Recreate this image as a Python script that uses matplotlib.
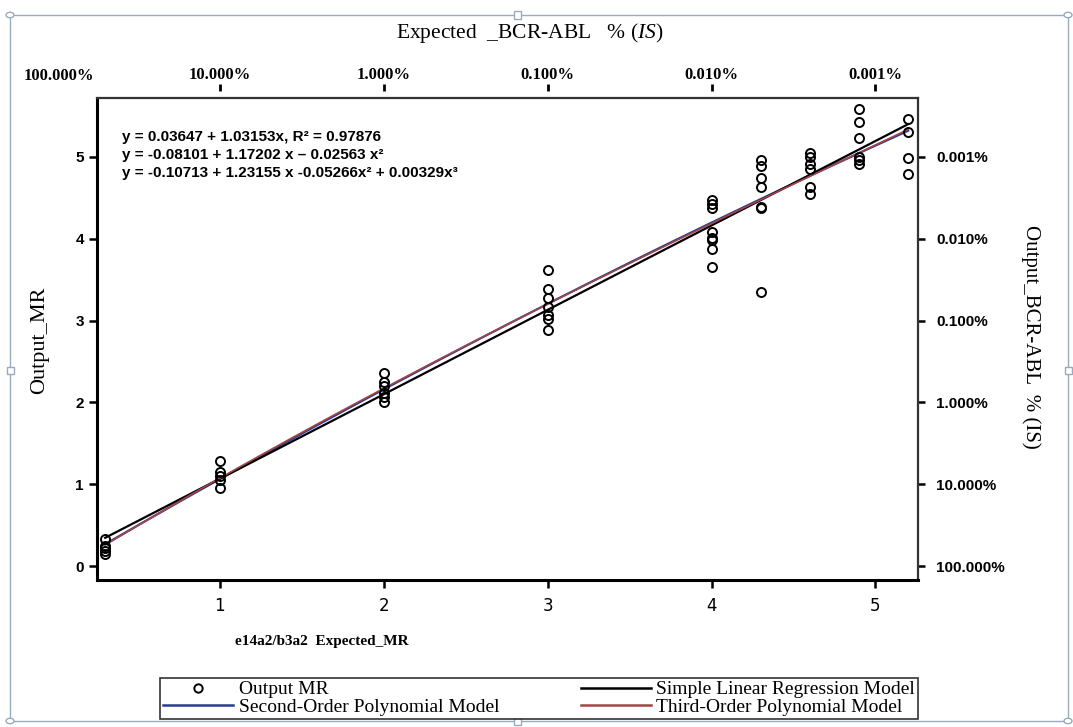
import numpy as np
import matplotlib.pyplot as plt
from matplotlib.patches import Rectangle, Circle
from matplotlib.lines import Line2D

plt.rcParams['mathtext.fontset'] = 'custom'
plt.rcParams['mathtext.rm'] = 'Liberation Serif'
plt.rcParams['mathtext.it'] = 'Liberation Serif:italic'

# observed Output_MR for each Expected_MR level
expected_mr = [0.3, 1, 2, 3, 4, 4.3, 4.6, 4.9, 5.2]
output_mr = [
    [0.33, 0.25, 0.22, 0.19, 0.15],
    [1.28, 1.15, 1.10, 1.05, 0.96],
    [2.36, 2.25, 2.20, 2.12, 2.07, 2.00],
    [3.62, 3.38, 3.27, 3.17, 3.07, 3.02, 2.88],
    [4.47, 4.42, 4.38, 4.08, 4.01, 3.98, 3.87, 3.65],
    [4.96, 4.89, 4.74, 4.63, 4.39, 4.37, 3.35],
    [5.05, 5.00, 4.91, 4.85, 4.63, 4.55],
    [5.59, 5.43, 5.23, 5.00, 4.96, 4.91],
    [5.46, 5.31, 4.99, 4.79],
]

# model coefficients (lowest order first)
lin_coef = [0.03647, 1.03153]
quad_coef = [-0.08101, 1.17202, -0.02563]
cub_coef = [-0.10713, 1.23155, -0.05266, 0.00329]

mr_ticks = [0, 1, 2, 3, 4, 5]
pct_labels = ['100.000%', '10.000%', '1.000%', '0.100%', '0.010%', '0.001%']

fig = plt.figure(figsize=(10.73, 7.27), dpi=100)
ax = fig.add_axes([97/1073, 1-580/727, 821/1073, 482/727])

px, py = [], []
for x, ys in zip(expected_mr, output_mr):
    px += [x]*len(ys)
    py += ys
ax.plot(px, py, 'o', mfc='none', mec='black', mew=1.4, ms=6.5, zorder=5)

xs = np.linspace(expected_mr[0], expected_mr[-1], 200)
ax.plot(xs, np.polyval(quad_coef[::-1], xs), color='#2b3a8f', lw=1.6, zorder=3)
ax.plot(xs, np.polyval(lin_coef[::-1], xs), color='black', lw=1.6, zorder=3)
ax.plot(xs, np.polyval(cub_coef[::-1], xs), color='#a34547', lw=1.2, zorder=4)

ax.set_xlim(0.25, 5.26)
ax.set_ylim(-0.17, 5.72)
ax.set_xticks([1, 2, 3, 4, 5])
ax.set_yticks(mr_ticks)
ax.tick_params(axis='both', direction='out', length=6, width=1.8)
ax.tick_params(axis='x', pad=6, labelsize=12, labelfontfamily='DejaVu Sans')
ax.tick_params(axis='y', labelsize=11, labelfontfamily='Liberation Sans')
for lab in ax.get_yticklabels():
    lab.set_fontweight('bold')
for s in ['left', 'bottom']:
    ax.spines[s].set_linewidth(2.2)
for s in ['top', 'right']:
    ax.spines[s].set_linewidth(1.6)
    ax.spines[s].set_color('#333333')

# top axis: BCR-ABL % (IS) for expected
top = ax.secondary_xaxis('top')
top.set_xticks(mr_ticks[1:])
top.set_xticklabels(pct_labels[1:])
top.spines['top'].set_visible(False)
top.spines['top'].set_position(('outward', 5))
top.tick_params(length=5, width=2, pad=1, labelsize=12, labelfontfamily='Liberation Serif')
for lab in top.get_xticklabels():
    lab.set_fontweight('bold')
ax.text(0.02, 1.045, pct_labels[0], transform=ax.get_xaxis_transform(),
        ha='center', va='center', fontfamily='Liberation Serif', fontweight='bold',
        fontsize=12, clip_on=False)

# right axis: BCR-ABL % (IS) for output
right = ax.secondary_yaxis('right')
right.set_yticks(mr_ticks)
right.set_yticklabels(pct_labels, fontweight='bold')
right.tick_params(length=5, width=1.8, pad=8, labelsize=11, labelfontfamily='Liberation Sans')
right.spines['right'].set_visible(False)

fig.text(40/1073, 1-340/727, 'Output_MR', rotation=90, ha='center', va='center',
         fontfamily='Liberation Serif', fontsize=16)
fig.text(1031/1073, 1-337/727, 'Output_BCR-ABL  % (IS)', rotation=-90, ha='center', va='center',
         fontfamily='Liberation Serif', fontsize=15)
fig.text(322/1073, 1-642/727, 'e14a2/b3a2  Expected_MR', ha='center', va='center',
         fontfamily='Liberation Serif', fontweight='bold', fontsize=11)
fig.text(530/1073, 1-33/727, r'Expected  _BCR-ABL   % ($\it{IS}$)', ha='center', va='center',
         fontfamily='Liberation Serif', fontsize=15.5)

eqs = ['y = 0.03647 + 1.03153x, R² = 0.97876',
       'y = -0.08101 + 1.17202 x – 0.02563 x²',
       'y = -0.10713 + 1.23155 x -0.05266x² + 0.00329x³']
for i, e in enumerate(eqs):
    fig.text(122/1073, 1-(137 + i*18)/727, e, ha='left', va='center',
             fontfamily='Liberation Sans', fontweight='bold', fontsize=11)

handles = [Line2D([], [], ls='none', marker='o', mfc='none', mec='black', mew=1.4, ms=6),
           Line2D([], [], color='#2b3a8f', lw=1.8),
           Line2D([], [], color='black', lw=1.8),
           Line2D([], [], color='#a34547', lw=1.8)]
labels = ['Output MR', 'Second-Order Polynomial Model',
          'Simple Linear Regression Model', 'Third-Order Polynomial Model']
leg = fig.legend(handles, labels, ncol=2, mode='expand', loc='lower left',
                 bbox_to_anchor=(160/1073, 1-719/727, 758/1073, 52/727),
                 prop={'family': 'Liberation Serif', 'size': 14},
                 frameon=True, fancybox=False, edgecolor='black', handlelength=3.6,
                 borderpad=0.15, labelspacing=0.0, handletextpad=0.3, borderaxespad=0)
leg.get_frame().set_linewidth(1.2)

# picture selection frame
sel = '#9aabbd'
fig.add_artist(Rectangle((10/1073, 1-721/727), 1058/1073, 706/727, transform=fig.transFigure,
                         fill=False, edgecolor=sel, lw=1))
for (hx, hy) in [(10, 15), (1068, 15), (10, 721), (1068, 721)]:
    fig.add_artist(Circle((hx/1073, 1-hy/727), 4/1073, transform=fig.transFigure,
                          facecolor='white', edgecolor=sel, lw=1))
for (hx, hy) in [(517, 15), (517, 721), (10, 370), (1068, 370)]:
    fig.add_artist(Rectangle(((hx-3.5)/1073, 1-(hy+3.5)/727), 7/1073, 7/727,
                             transform=fig.transFigure, facecolor='white', edgecolor=sel, lw=1))

fig.savefig('out.png', dpi=100)
